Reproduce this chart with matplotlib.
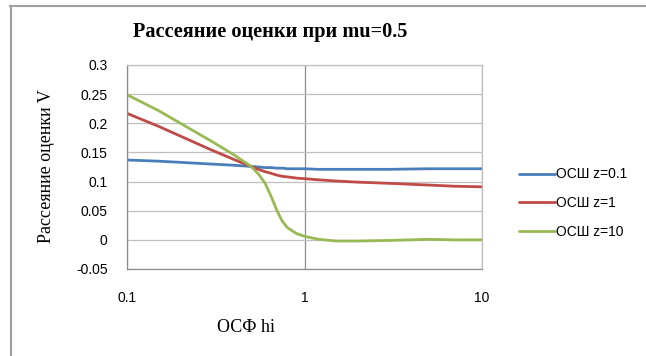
import matplotlib
matplotlib.use('Agg')
import matplotlib.pyplot as plt
from matplotlib.lines import Line2D

# Data
hi = [0.1, 0.15, 0.2, 0.3, 0.4, 0.5, 0.55, 0.6, 0.65, 0.7, 0.75, 0.8, 0.9,
      1.0, 1.2, 1.5, 2.0, 3.0, 5.0, 7.0, 10.0]
v_z01 = [0.137, 0.135, 0.133, 0.130, 0.128, 0.126, 0.125, 0.124, 0.124, 0.123, 0.123, 0.122, 0.122,
         0.122, 0.121, 0.121, 0.121, 0.121, 0.122, 0.122, 0.122]
v_z1 = [0.217, 0.195, 0.178, 0.154, 0.138, 0.126, 0.121, 0.117, 0.114, 0.111, 0.109, 0.108, 0.106,
        0.105, 0.103, 0.101, 0.099, 0.097, 0.094, 0.092, 0.091]
v_z10 = [0.249, 0.222, 0.200, 0.169, 0.146, 0.126, 0.113, 0.097, 0.074, 0.050, 0.032, 0.021, 0.011,
         0.006, 0.001, -0.002, -0.002, -0.001, 0.001, 0.000, 0.000]
labels = ['ОСШ z=0.1', 'ОСШ z=1', 'ОСШ z=10']
yticks = [-0.05, 0, 0.05, 0.1, 0.15, 0.2, 0.25, 0.3]
ytick_labels = ['-0.05', '0', '0.05', '0.1', '0.15', '0.2', '0.25', '0.3']
xticks = [0.1, 1, 10]
xtick_labels = ['0.1', '1', '10']

colors = ['#4A7EBB', '#BE4B48', '#98B954']
serif = 'Liberation Serif'
sans = 'Liberation Sans'

fig = plt.figure(figsize=(6.46, 3.56), dpi=100)
fig.patch.set_facecolor('white')
ax = fig.add_axes([127 / 646, 1 - 269 / 356, (482 - 127) / 646, (269 - 65) / 356])

for y, c, lab in zip([v_z01, v_z1, v_z10], colors, labels):
    ax.plot(hi, y, color=c, lw=2.0, label=lab, solid_capstyle='round')

ax.set_xscale('log')
ax.set_xlim(0.1, 10)
ax.set_ylim(-0.05, 0.3)
ax.set_xticks(xticks)
ax.set_xticklabels(xtick_labels, fontsize=10, family=sans)
ax.set_yticks(yticks)
ax.set_yticklabels(ytick_labels, fontsize=10, family=sans)
ax.minorticks_off()
ax.tick_params(axis='both', length=0)
ax.tick_params(axis='x', pad=16)
ax.tick_params(axis='y', pad=14)

ax.grid(axis='y', color='#BFBFBF', lw=0.9)
ax.grid(axis='x', color='#8C8C8C', lw=0.9)
ax.set_axisbelow(True)
for s in ax.spines.values():
    s.set_color('#BFBFBF')
    s.set_linewidth(0.9)
ax.spines['left'].set_color('#8C8C8C')
ax.spines['bottom'].set_color('#8C8C8C')

fig.text(270 / 646, 1 - 32 / 356, 'Рассеяние оценки при mu=0.5', ha='center', va='center',
         fontsize=14.6, fontweight='bold', family=serif)
fig.text(47 / 646, 1 - 166 / 356, 'Рассеяние оценки V', ha='center', va='center',
         rotation=90, fontsize=13, family=serif)
fig.text(246 / 646, 1 - 328 / 356, 'ОСФ hi', ha='center', va='center',
         fontsize=13, family=serif)

leg = fig.legend(loc='center left', bbox_to_anchor=(506 / 646, 1 - 203 / 356), frameon=False,
                 prop={'family': sans, 'size': 10}, handlelength=2.6, handletextpad=0.1,
                 labelspacing=1.05)

# outer chart frame (only top and left edges are in view)
fig.add_artist(Line2D([10 / 646, 1], [1 - 5.5 / 356, 1 - 5.5 / 356], color='#A0A0A0', lw=1.5,
                      transform=fig.transFigure))
fig.add_artist(Line2D([10.5 / 646, 10.5 / 646], [0, 1 - 5.5 / 356], color='#A0A0A0', lw=1.5,
                      transform=fig.transFigure))

fig.savefig('out.png', dpi=100, facecolor='white')
